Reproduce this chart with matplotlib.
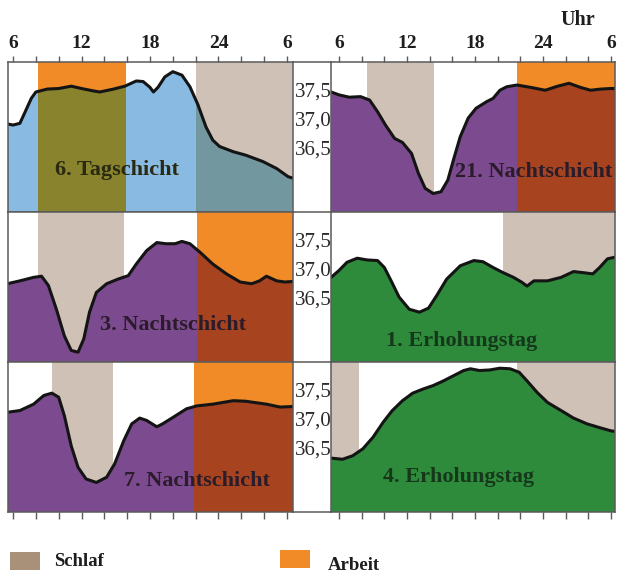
import matplotlib
matplotlib.use("Agg")
import matplotlib.pyplot as plt
from matplotlib.patches import Polygon, Rectangle
from matplotlib.lines import Line2D

# Körpertemperatur (°C) im Tagesverlauf; Stunden ab 6 Uhr (30 = 6 Uhr am Folgetag)
hours_tag6 = [5.5, 6, 6.6, 7, 7.6, 8, 9, 10, 11.1, 12, 13, 13.6, 14.8, 15.8, 16.8, 17.4,
              18, 18.3, 18.7, 19.3, 20, 20.8, 21.5, 22.2, 22.9, 23.5, 24.1, 25.3, 26.4,
              27.9, 29.1, 30.1, 30.6]
temp_tag6 = [36.95, 36.93, 36.96, 37.13, 37.39, 37.50, 37.55, 37.56, 37.60, 37.56, 37.52,
             37.50, 37.55, 37.60, 37.69, 37.68, 37.58, 37.50, 37.58, 37.76, 37.85, 37.79,
             37.59, 37.28, 36.90, 36.67, 36.56, 36.47, 36.41, 36.30, 36.18, 36.04, 36.01]

hours_n21 = [5.3, 6, 6.9, 7.9, 8.7, 9.4, 10.1, 10.9, 11.6, 12.4, 13, 13.6, 14.3, 15.0,
             15.6, 16.1, 16.7, 17.4, 18.1, 19.0, 19.6, 20.2, 20.8, 21.7, 22.9, 24.2, 25.3,
             26.3, 27.3, 28.2, 29.1, 30.0, 30.4]
temp_n21 = [37.50, 37.45, 37.41, 37.42, 37.36, 37.16, 36.93, 36.70, 36.63, 36.44, 36.10,
            35.84, 35.75, 35.78, 35.98, 36.33, 36.73, 37.05, 37.22, 37.33, 37.39, 37.53,
            37.59, 37.62, 37.58, 37.53, 37.60, 37.65, 37.58, 37.53, 37.55, 37.56, 37.56]

hours_n3 = [5.5, 6.6, 7.8, 8.5, 9.1, 9.8, 10.5, 11.1, 11.7, 12.2, 12.7, 13.3, 14.2, 15.2,
            16.1, 16.8, 17.7, 18.6, 19.4, 20.2, 20.8, 21.5, 22.4, 23.5, 24.7, 25.9, 26.9,
            27.6, 28.2, 29.1, 29.8, 30.6]
temp_n3 = [36.78, 36.83, 36.89, 36.91, 36.75, 36.34, 35.88, 35.63, 35.60, 35.83, 36.29,
           36.63, 36.78, 36.86, 36.92, 37.12, 37.35, 37.49, 37.47, 37.47, 37.51, 37.47,
           37.32, 37.12, 36.95, 36.81, 36.78, 36.83, 36.91, 36.83, 36.81, 36.82]

hours_e1 = [5.3, 6, 6.7, 7.6, 8.5, 9.4, 10, 10.6, 11.3, 12.2, 13.1, 13.9, 14.6, 15.5,
            16.7, 17.9, 18.7, 19.6, 20.5, 21.4, 22.1, 22.6, 23.2, 24.4, 25.6, 26.7, 27.6,
            28.4, 29.0, 29.7, 30.4]
temp_e1 = [36.89, 37.01, 37.15, 37.22, 37.19, 37.18, 37.06, 36.83, 36.55, 36.34, 36.29,
           36.36, 36.57, 36.86, 37.09, 37.18, 37.16, 37.06, 36.97, 36.89, 36.81, 36.74,
           36.83, 36.83, 36.89, 36.99, 36.97, 36.95, 37.06, 37.21, 37.24]

hours_n7 = [5.5, 6.6, 7.8, 8.7, 9.4, 10, 10.5, 11.1, 11.7, 12.4, 13.3, 14.2, 14.9, 15.7,
            16.4, 17.1, 17.7, 18.6, 19.1, 20, 21.2, 22.1, 23.5, 25.3, 26.4, 28.2, 29.4, 30.6]
temp_n7 = [37.15, 37.18, 37.29, 37.44, 37.48, 37.41, 37.09, 36.57, 36.20, 36.00, 35.94,
           36.03, 36.26, 36.66, 36.95, 37.05, 37.01, 36.90, 36.95, 37.06, 37.21, 37.26,
           37.29, 37.35, 37.34, 37.29, 37.24, 37.25]

hours_e4 = [5.3, 6.3, 7.2, 8.1, 9, 9.9, 10.7, 11.6, 12.5, 13.4, 14.3, 15.2, 16.1, 17,
            17.6, 18.4, 19.3, 20.2, 21.1, 21.9, 22.6, 23.5, 24.4, 25.6, 26.7, 27.9, 29.1,
            30.0, 30.4]
temp_e4 = [36.36, 36.34, 36.40, 36.52, 36.72, 36.98, 37.18, 37.35, 37.48, 37.55, 37.61,
           37.69, 37.78, 37.87, 37.90, 37.87, 37.88, 37.91, 37.90, 37.84, 37.69, 37.49,
           37.32, 37.18, 37.05, 36.95, 36.88, 36.83, 36.82]

# Schlaf- und Arbeitszeiten (Beginn, Ende) in Stunden
sleep_tag6 = [(22.0, 31)]
work_tag6 = [(8.2, 15.9)]
sleep_n21 = [(8.5, 14.4)]
work_n21 = [(21.7, 31)]
sleep_n3 = [(8.2, 15.7)]
work_n3 = [(22.1, 31)]
sleep_e1 = [(20.5, 31)]
work_e1 = []
sleep_n7 = [(9.4, 14.8)]
work_n7 = [(21.9, 31)]
sleep_e4 = [(5, 7.8), (21.7, 31)]
work_e4 = []

panel_titles = ["6. Tagschicht", "21. Nachtschicht", "3. Nachtschicht",
                "1. Erholungstag", "7. Nachtschicht", "4. Erholungstag"]
hour_ticks = list(range(6, 31, 2))
hour_labels = {6: "6", 12: "12", 18: "18", 24: "24", 30: "6"}
temp_ticks = [37.5, 37.0, 36.5]
temp_labels = ["37,5", "37,0", "36,5"]
legend_labels = ["Schlaf", "Arbeit"]

# Farben
BLUE = "#89bbe2"
OLIVE = "#88832c"
TEAL = "#72979f"
PURPLE = "#7c4a8f"
BRICK = "#a8431f"
GREEN = "#2f8b3c"
ORANGE = "#f08b28"
SLEEP = "#d0c1b6"
SLEEP_KEY = "#a89178"
EDGE = "#5a5a5a"

SERIF = ["Liberation Serif", "DejaVu Serif"]
plt.rcParams["font.family"] = SERIF

W, H = 620, 574
fig = plt.figure(figsize=(W / 100, H / 100), dpi=100)
fig.patch.set_facecolor("white")


def fx(px):
    return px / W


def fy(py):
    return 1 - py / H


YLIM = (38.017 - 150 / 58, 38.017)
COLS = [(8, 293, (5.56, 30.53)), (331, 615, (5.29, 30.36))]
ROWS = [62, 212, 362]

panels = [
    (hours_tag6, temp_tag6, sleep_tag6, work_tag6, BLUE, TEAL, OLIVE, "#2a2a12", (117, 170)),
    (hours_n21, temp_n21, sleep_n21, work_n21, PURPLE, None, BRICK, "#2a1c2a", (534, 172)),
    (hours_n3, temp_n3, sleep_n3, work_n3, PURPLE, None, BRICK, "#2a1c2a", (173, 325)),
    (hours_e1, temp_e1, sleep_e1, work_e1, GREEN, None, None, "#15381a", (462, 341)),
    (hours_n7, temp_n7, sleep_n7, work_n7, PURPLE, None, BRICK, "#2a1c2a", (197, 481)),
    (hours_e4, temp_e4, sleep_e4, work_e4, GREEN, None, None, "#15381a", (459, 477)),
]

for i, (hrs, tmp, sleep, work, base, under_sleep, under_work, tcol, tpos) in enumerate(panels):
    row, col = divmod(i, 2)
    x0, x1, xlim = COLS[col]
    top = ROWS[row]
    ax = fig.add_axes([fx(x0), fy(top + 150), fx(x1) - fx(x0), 150 / H])
    ax.set_xlim(*xlim)
    ax.set_ylim(*YLIM)
    ax.set_facecolor("white")

    # Bänder oberhalb der Kurve
    for s, e in sleep:
        ax.axvspan(s, e, color=SLEEP, lw=0, zorder=0)
    for s, e in work:
        ax.axvspan(s, e, color=ORANGE, lw=0, zorder=0)

    # Fläche unter der Kurve
    verts = list(zip(hrs, tmp)) + [(hrs[-1], YLIM[0]), (hrs[0], YLIM[0])]
    area = Polygon(verts, closed=True, facecolor=base, edgecolor="none", zorder=1)
    ax.add_patch(area)
    for spans, c in ((sleep, under_sleep), (work, under_work)):
        if c is None:
            continue
        for s, e in spans:
            r = ax.axvspan(s, e, color=c, lw=0, zorder=2)
            r.set_clip_path(area)

    ax.plot(hrs, tmp, color="#141414", lw=2.2, solid_joinstyle="round",
            solid_capstyle="round", zorder=3)

    for sp in ax.spines.values():
        sp.set_color(EDGE)
        sp.set_linewidth(1.1)
        sp.set_zorder(5)

    ax.set_yticks([])
    ax.set_xticks(hour_ticks)
    if row == 0:
        ax.xaxis.tick_top()
        ax.set_xticklabels([hour_labels.get(h, "") for h in hour_ticks],
                           fontsize=14, fontweight="bold", color="#1e1e1e")
        ax.tick_params(axis="x", direction="out", length=4.5, width=1.0,
                       color=EDGE, pad=3)
    elif row == 2:
        ax.set_xticklabels([])
        ax.tick_params(axis="x", direction="out", length=5, width=1.0, color=EDGE)
    else:
        ax.tick_params(axis="x", length=0, labelbottom=False)

    fig.text(fx(tpos[0]), fy(tpos[1]), panel_titles[i], ha="center", va="center",
             fontsize=16, fontweight="bold", color=tcol, zorder=6)

# Temperaturskala zwischen den Spalten
for top in ROWS:
    for t, lab in zip(temp_ticks, temp_labels):
        py = top + (YLIM[1] - t) * 58
        fig.text(fx(295), fy(py), lab, ha="left", va="center", fontsize=15,
                 color="#2a2a2a")

# Rahmenlinien im Zwischenraum
for py in ROWS + [512]:
    fig.add_artist(Line2D([fx(293), fx(331)], [fy(py), fy(py)], color=EDGE, lw=1.1))

fig.text(fx(578), fy(20), "Uhr", ha="center", va="center", fontsize=14.5,
         fontweight="bold", color="#1e1e1e")

# Legende
fig.add_artist(Rectangle((fx(10), fy(570)), fx(30), 18 / H, facecolor=SLEEP_KEY,
                         edgecolor="none"))
fig.text(fx(54), fy(562), legend_labels[0], ha="left", va="center", fontsize=13.5,
         fontweight="bold", color="#1e1e1e")
fig.add_artist(Rectangle((fx(280), fy(568)), fx(30), 18 / H, facecolor=ORANGE,
                         edgecolor="none"))
fig.text(fx(328), fy(566), legend_labels[1], ha="left", va="center", fontsize=13.5,
         fontweight="bold", color="#1e1e1e")

fig.savefig("out.png", dpi=100, facecolor="white")
